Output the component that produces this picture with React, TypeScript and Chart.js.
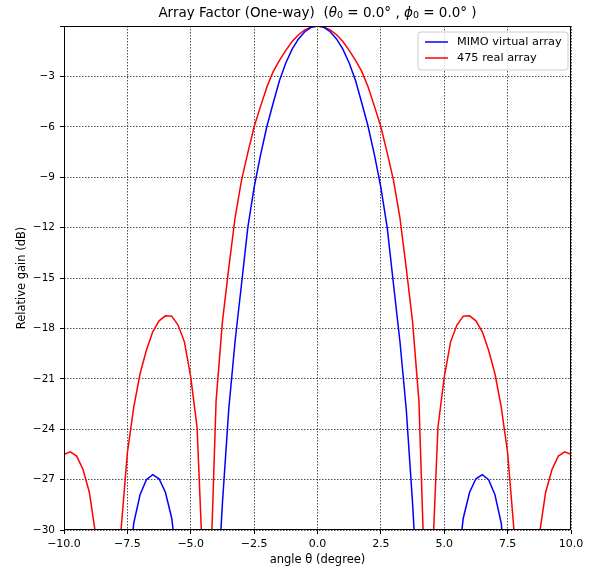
import React, { useEffect, useRef } from 'react';
import { Chart, registerables } from 'chart.js';

Chart.register(...registerables);

// angle θ (degree)
const angles = [
  -10, -9.75, -9.5, -9.25, -9, -8.75, -8.5, -8.25, -8, -7.75,
  -7.5, -7.25, -7, -6.75, -6.5, -6.25, -6, -5.75, -5.5, -5.25,
  -5, -4.75, -4.5, -4.25, -4, -3.75, -3.5, -3.25, -3, -2.75,
  -2.5, -2.25, -2, -1.75, -1.5, -1.25, -1, -0.75, -0.5, -0.25,
  0,
  0.25, 0.5, 0.75, 1, 1.25, 1.5, 1.75, 2, 2.25, 2.5,
  2.75, 3, 3.25, 3.5, 3.75, 4, 4.25, 4.5, 4.75, 5,
  5.25, 5.5, 5.75, 6, 6.25, 6.5, 6.75, 7, 7.25, 7.5,
  7.75, 8, 8.25, 8.5, 8.75, 9, 9.25, 9.5, 9.75, 10,
];

// MIMO virtual array, relative gain (dB)
const mimoVirtual = [
  -40, -37, -35, -34, -34, -35, -37, -42, -50, -40,
  -34, -29.6, -27.9, -27.0, -26.7, -26.95, -27.75, -29.3, -32.5, -35,
  -38, -45, -55, -42, -35, -28.4, -22.8, -18.75, -15.4, -12.0,
  -9.6, -7.7, -6.0, -4.6, -3.25, -2.2, -1.38, -0.77, -0.34, -0.08,
  0,
  -0.08, -0.34, -0.77, -1.38, -2.2, -3.25, -4.6, -6.0, -7.7, -9.6,
  -12.0, -15.4, -18.75, -22.8, -28.4, -35, -42, -55, -45, -38,
  -35, -32.5, -29.3, -27.75, -26.95, -26.7, -27.0, -27.9, -29.6, -34,
  -40, -50, -42, -37, -35, -34, -34, -35, -37, -40,
];

// 475 real array, relative gain (dB)
const realArray = [
  -25.5, -25.35, -25.6, -26.4, -27.75, -30.3, -36, -48, -37, -30.0,
  -25.4, -22.7, -20.7, -19.3, -18.2, -17.55, -17.25, -17.27, -17.8, -18.8,
  -20.9, -23.9, -33, -34, -22.3, -17.6, -14.4, -11.4, -9.2, -7.55,
  -6.0, -4.8, -3.65, -2.72, -2.05, -1.45, -0.92, -0.52, -0.23, -0.06,
  0,
  -0.06, -0.23, -0.52, -0.92, -1.45, -2.05, -2.72, -3.65, -4.8, -6.0,
  -7.55, -9.2, -11.4, -14.4, -17.6, -22.3, -34, -33, -23.9, -20.9,
  -18.8, -17.8, -17.27, -17.25, -17.55, -18.2, -19.3, -20.7, -22.7, -25.4,
  -30.0, -37, -48, -36, -30.3, -27.75, -26.4, -25.6, -25.35, -25.5,
];

const seriesNames = ['MIMO virtual array', '475 real array'];
const seriesColors = ['#0000ff', '#ff0000'];

const xMin = -10;
const xMax = 10;
const xStep = 2.5;
const yMin = -30;
const yMax = 0;
const yStep = 3;

const FONT = "'DejaVu Sans', sans-serif";
const uminus = (s: string) => s.replace('-', '\u2212');

export default function App() {
  const ref = useRef<HTMLCanvasElement | null>(null);

  useEffect(() => {
    if (!ref.current) return;

    const framePlugin = {
      id: 'frame',
      afterDatasetsDraw(chart: any) {
        const { ctx, chartArea: a } = chart;
        ctx.save();
        ctx.strokeStyle = '#000';
        ctx.lineWidth = 1;
        ctx.strokeRect(Math.round(a.left) + 0.5, Math.round(a.top) + 0.5, Math.round(a.right - a.left) - 1, Math.round(a.bottom - a.top) - 1);
        ctx.restore();
      },
    };

    const titlePlugin = {
      id: 'mathTitle',
      afterDraw(chart: any) {
        const { ctx, chartArea: a } = chart;
        const base = `13.5px ${FONT}`;
        const ital = `italic 13.5px ${FONT}`;
        const sub = `9.5px ${FONT}`;
        const parts: [string, string, number][] = [
          ['Array Factor (One-way)  (', base, 0],
          ['θ', ital, 0],
          ['0', sub, 3],
          [' = 0.0', base, 0],
          ['°', base, 0],
          [' , ', base, 0],
          ['ϕ', ital, 0],
          ['0', sub, 3],
          [' = 0.0', base, 0],
          ['°', base, 0],
          [' )', base, 0],
        ];
        ctx.save();
        ctx.fillStyle = '#000';
        ctx.textBaseline = 'middle';
        ctx.textAlign = 'left';
        let total = 0;
        for (const [t, f] of parts) {
          ctx.font = f;
          total += ctx.measureText(t).width;
        }
        let x = (a.left + a.right) / 2 - total / 2;
        const y = 13;
        for (const [t, f, dy] of parts) {
          ctx.font = f;
          ctx.fillText(t, x, y + dy);
          x += ctx.measureText(t).width;
        }
        ctx.restore();
      },
    };

    const legendPlugin = {
      id: 'innerLegend',
      afterDraw(chart: any) {
        const { ctx, chartArea: a } = chart;
        const w = 150;
        const h = 38;
        const bx = a.right - 3 - w;
        const by = a.top + 6;
        ctx.save();
        ctx.beginPath();
        const r = 3;
        ctx.moveTo(bx + r, by);
        ctx.lineTo(bx + w - r, by);
        ctx.quadraticCurveTo(bx + w, by, bx + w, by + r);
        ctx.lineTo(bx + w, by + h - r);
        ctx.quadraticCurveTo(bx + w, by + h, bx + w - r, by + h);
        ctx.lineTo(bx + r, by + h);
        ctx.quadraticCurveTo(bx, by + h, bx, by + h - r);
        ctx.lineTo(bx, by + r);
        ctx.quadraticCurveTo(bx, by, bx + r, by);
        ctx.closePath();
        ctx.fillStyle = 'rgba(255,255,255,0.8)';
        ctx.fill();
        ctx.strokeStyle = '#cccccc';
        ctx.lineWidth = 1;
        ctx.stroke();
        ctx.font = `11.3px ${FONT}`;
        ctx.textBaseline = 'middle';
        ctx.textAlign = 'left';
        seriesNames.forEach((name, i) => {
          const yy = by + 10 + i * 16;
          ctx.strokeStyle = seriesColors[i];
          ctx.lineWidth = 1.5;
          ctx.beginPath();
          ctx.moveTo(bx + 7, yy);
          ctx.lineTo(bx + 30, yy);
          ctx.stroke();
          ctx.fillStyle = '#000';
          ctx.fillText(name, bx + 39, yy);
        });
        ctx.restore();
      },
    };

    const gridCommon = {
      color: '#222222',
      lineWidth: 0.8,
      drawTicks: true,
      tickLength: 4,
      tickColor: '#000',
      tickWidth: 1,
      tickBorderDash: [],
    };
    const borderCommon = { display: false, dash: [1.5, 1.5] };

    const chart = new Chart(ref.current, {
      type: 'line',
      data: {
        datasets: [
          {
            label: seriesNames[0],
            data: angles.map((a, i) => ({ x: a, y: mimoVirtual[i] })),
            borderColor: seriesColors[0],
            borderWidth: 1.5,
            pointRadius: 0,
            tension: 0,
            clip: 0,
          },
          {
            label: seriesNames[1],
            data: angles.map((a, i) => ({ x: a, y: realArray[i] })),
            borderColor: seriesColors[1],
            borderWidth: 1.5,
            pointRadius: 0,
            tension: 0,
            clip: 0,
          },
        ],
      },
      options: {
        animation: false,
        responsive: false,
        devicePixelRatio: 1,
        layout: { padding: { top: 26, right: 26, left: 0, bottom: 0 } },
        plugins: {
          legend: { display: false },
          title: { display: false },
          tooltip: { enabled: false },
        },
        scales: {
          x: {
            type: 'linear',
            min: xMin,
            max: xMax,
            border: borderCommon,
            grid: gridCommon as any,
            afterFit(scale: any) {
              scale.height = 40;
            },
            ticks: {
              stepSize: xStep,
              color: '#000',
              font: { family: FONT, size: 11 },
              padding: 4,
              maxRotation: 0,
              callback: (v: any) => uminus(Number(v).toFixed(1)),
            },
            title: {
              display: true,
              text: 'angle θ (degree)',
              color: '#000',
              font: { family: FONT, size: 11.5 },
              padding: { top: 0, bottom: 3 },
            },
          },
          y: {
            type: 'linear',
            min: yMin,
            max: yMax,
            border: borderCommon,
            grid: gridCommon as any,
            afterFit(scale: any) {
              scale.width = 64;
            },
            ticks: {
              stepSize: yStep,
              color: '#000',
              font: { family: FONT, size: 10.5 },
              padding: 5,
              callback: (v: any) => (Number(v) === 0 ? '' : uminus(String(v))),
            },
            title: {
              display: true,
              text: 'Relative gain (dB)',
              color: '#000',
              font: { family: FONT, size: 11.5 },
              padding: { top: 15, bottom: 0 },
            },
          },
        },
      },
      plugins: [framePlugin, titlePlugin, legendPlugin],
    } as any);

    return () => chart.destroy();
  }, []);

  return (
    <div style={{ position: 'absolute', left: 0, top: 0, width: 597, height: 570, background: '#fff' }}>
      <canvas ref={ref} width={597} height={570} style={{ display: 'block' }} />
    </div>
  );
}
